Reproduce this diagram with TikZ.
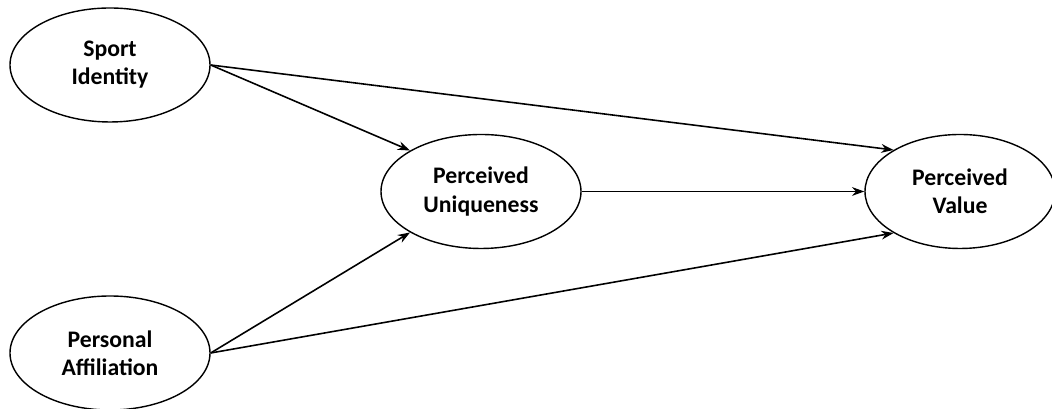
\documentclass[tikz,border=0pt]{standalone}
\usepackage{fontspec}
\setmainfont{Carlito}
\usepackage{tikz}
\usetikzlibrary{positioning,shapes.geometric,arrows.meta}

\tikzset{
	construct/.style={draw, ellipse, line width=0.8pt, inner sep=0pt,
		minimum width=4cm, minimum height=2.28cm, align=center,
		font=\fontsize{13.5}{16}\selectfont\bfseries},
	path/.style={line width=0.9pt, -{Stealth[length=7pt,width=5pt]}}
}

\begin{document}
\begin{tikzpicture}
	\useasboundingbox (0,0) rectangle (21.04,8.18);
	\node[construct] (SI) at (2.20, 6.88) {Sport\\Identity};
	\node[construct] (PA) at (2.20, 1.12) {Personal\\Affiliation};
	\node[construct] (PU) at (9.62, 4.35) {Perceived\\Uniqueness};
	\node[construct, minimum width=3.8cm] (PV) at (19.20, 4.35) {Perceived\\Value};
	\draw[path] (SI.east) -- (PU.150);
	\draw[path] (SI.east) -- (PV.148);
	\draw[path] (PA.east) -- (PU.210);
	\draw[path] (PA.east) -- (PV.212);
	\draw[path] (PU.east) -- (PV.west);
\end{tikzpicture}
\end{document}
